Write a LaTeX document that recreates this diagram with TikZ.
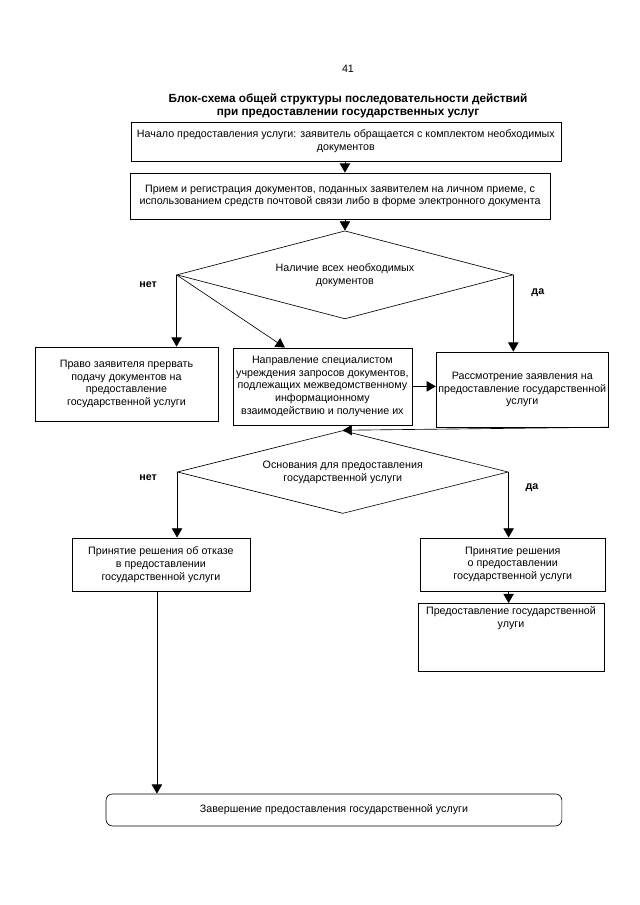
\documentclass[tikz,border=0pt]{standalone}
\usepackage{fontspec}
\setmainfont{Liberation Sans}
\usetikzlibrary{arrows.meta}
\usetikzlibrary{shapes.geometric}

\begin{document}
\begin{tikzpicture}[box/.style={draw, line width=0.6pt, align=center, inner xsep=2pt, font=\fontsize{10}{12}\selectfont},
        ifbox/.style={draw, diamond, line width=0.6pt, aspect=3.8, inner sep=0pt, align=center, font=\fontsize{10}{12}\selectfont},
        arr/.style={line width=0.6pt, -{Triangle[length=3mm,width=3.4mm]}},
        ans/.style={font=\fontsize{10}{12}\selectfont\bfseries}]
            \useasboundingbox (0,0) rectangle (21,-29.7);
            \node[font=\fontsize{10}{12}\selectfont] (pagenum) at (11.42,-2.26) {41};
            \node[font=\fontsize{11}{12.5}\selectfont\bfseries, align=center] (title) at (11.42,-3.48) {Блок-схема общей структуры последовательности действий\\при предоставлении государственных услуг};

            \node[box, minimum width=14.11cm, minimum height=1.28cm] (start) at (11.35,-4.64) {Начало предоставления услуги: заявитель обращается с комплектом необходимых\\документов};
            \node[box, minimum width=13.78cm, minimum height=1.51cm] (reg) at (11.16,-6.43) {Прием и регистрация документов, поданных заявителем на личном приеме, с\\использованием средств почтовой связи либо в форме электронного документа};
            \node[ifbox, minimum width=11.03cm, minimum height=2.89cm] (docs) at (11.32,-9.02) {Наличие всех необходимых\\документов};

            \node[box, minimum width=6.0cm, minimum height=2.43cm] (stop) at (4.15,-12.6) {Право заявителя прервать\\подачу документов на\\предоставление\\государственной услуги};
            \node[box, inner xsep=1pt, minimum width=5.87cm, minimum height=2.53cm] (queries) at (10.58,-12.68) {Направление специалистом\\учреждения запросов документов,\\подлежащих межведомственному\\информационному\\взаимодействию и получение их};
            \node[box, minimum width=5.61cm, minimum height=2.46cm] (review) at (17.14,-12.78) {Рассмотрение заявления на\\предоставление государственной\\услуги};

            \node[ifbox, minimum width=10.86cm, minimum height=2.72cm] (grounds) at (11.25,-15.49) {Основания для предоставления\\государственной услуги};

            \node[box, minimum width=5.84cm, minimum height=1.74cm] (refuse) at (5.28,-18.52) {Принятие решения об отказе\\в предоставлении\\государственной услуги};
            \node[box, minimum width=6.1cm, minimum height=1.74cm] (grant) at (16.83,-18.52) {Принятие решения\\о предоставлении\\государственной услуги};
            \node[box, anchor=north, minimum width=6.1cm, text depth=1.3cm] (provide) at (16.77,-19.79) {Предоставление государственной\\улуги};

            \node[box, rounded corners=6pt, minimum width=14.96cm, minimum height=1.05cm] (finish) at (10.96,-26.58) {Завершение предоставления государственной услуги};

            \node[ans] (no1) at (4.86,-9.35) {нет};
            \node[ans] (yes1) at (17.65,-9.61) {да};
            \node[ans] (no2) at (4.86,-15.68) {нет};
            \node[ans] (yes2) at (17.46,-16.01) {да};

            \draw[arr] (start.south -| docs.north) -- (reg.north -| docs.north);
            \draw[arr] (reg.south -| docs.north) -- (docs.north);
            \draw[arr] (docs.west) -- (docs.west |- stop.north);
            \draw[arr] (docs.west) -- ([xshift=-1.23cm]queries.north);
            \draw[arr] (docs.east) -- (docs.east |- review.north);
            \draw[arr] (queries.east) -- (queries.east -| review.west);
            \draw[arr] (review.south east) -- (grounds.north);
            \draw[arr] (grounds.west) -- (grounds.west |- refuse.north);
            \draw[arr] (grounds.east) -- (grounds.east |- grant.north);
            \draw[arr] (grounds.east |- grant.south) -- (grounds.east |- provide.north);
            \draw[arr] ([xshift=-0.13cm]refuse.south) -- ([xshift=-0.13cm]refuse.south |- finish.north);
\end{tikzpicture}
\end{document}
